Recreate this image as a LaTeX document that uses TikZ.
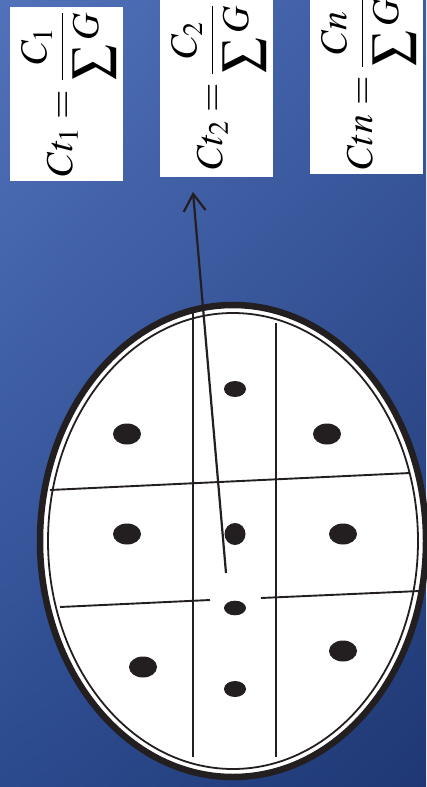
\documentclass[tikz,border=0pt]{standalone}
\usepackage{mathptmx}
\usepackage{tikz}
\usetikzlibrary{arrows.meta,positioning,shadings}
\definecolor{bgul}{HTML}{5172BA}
\definecolor{bgur}{HTML}{3C5BA2}
\definecolor{bgll}{HTML}{2B4A8E}
\definecolor{bglr}{HTML}{1F3874}
\definecolor{ink}{HTML}{231F20}
\newsavebox\sumbox
\newcommand{\bigsum}{\mathop{\sbox\sumbox{\resizebox*{!}{1.13em}{$\sum$}}%
  \raisebox{\dimexpr0.66em-\ht\sumbox\relax}{\usebox\sumbox}}}

\begin{document}
\begin{tikzpicture}[x=1pt,y=-1pt,
  box/.style={fill=white,minimum width=113pt,inner sep=0pt},
  eq/.style={rotate=90,inner sep=0pt,font=\fontsize{38}{44}\selectfont},
  a/.style={-{Straight Barb[length=17pt,width=22pt]},line width=2.2pt,draw=ink},
  grid/.style={line width=1.9pt,draw=ink}
]
\useasboundingbox (0,0) rectangle (426,787);
\shade[upper left=bgul,upper right=bgur,lower left=bgll,lower right=bglr]
  (0,0) rectangle (426,787);

% boxes with the formulas
\node[box,minimum height=174pt] (c1) at (66.5,94) {};
\node[box,minimum height=177pt] (c2) at (216.5,88.5) {};
\node[box,minimum height=174pt] (c3) at (366.5,87) {};
\node[eq] (f1) at ([xshift=2pt]c1.center)
  {$\displaystyle Ct_1=\frac{C_1}{\bigsum G}$};
\node[eq] (f2) at ([xshift=2pt,yshift=1pt]c2.center)
  {$\displaystyle Ct_2=\frac{C_2}{\bigsum G}$};
\node[eq] (f3) at ([xshift=2pt,yshift=3pt]c3.center)
  {$\displaystyle Ctn=\frac{Cn}{\bigsum G}$};

% the ellipse
\draw[ink,line width=6.5pt,fill=white] (233,541) ellipse [x radius=193,y radius=236];
\draw[ink,line width=1.8pt] (233,541) ellipse [x radius=185,y radius=228];

% grid
\draw[grid] (193,313) -- (193,757);
\draw[grid] (276,323) -- (276,757);
\draw[grid] (50,490) -- (410,473);
\draw[grid] (60,607) -- (210,600);
\draw[grid] (261,598) -- (420,591);

% dots
\foreach \x/\y/\rx/\ry in {235/389/11/8, 127/434/14/10.5, 327/434/14/10.5,
  127/534/14/10.5, 235/534/10.5/11, 343/534/14/10.5, 235/608/11/7.3,
  143/667/14/10.5, 343/651/14/10.5, 235/689/11/8}
  \fill[ink] (\x,\y) ellipse [x radius=\rx,y radius=\ry];

\coordinate (tail) at (226,573);
\coordinate (tip) at (193,192);
\draw[a] (tail) -- (tip);
\end{tikzpicture}
\end{document}
